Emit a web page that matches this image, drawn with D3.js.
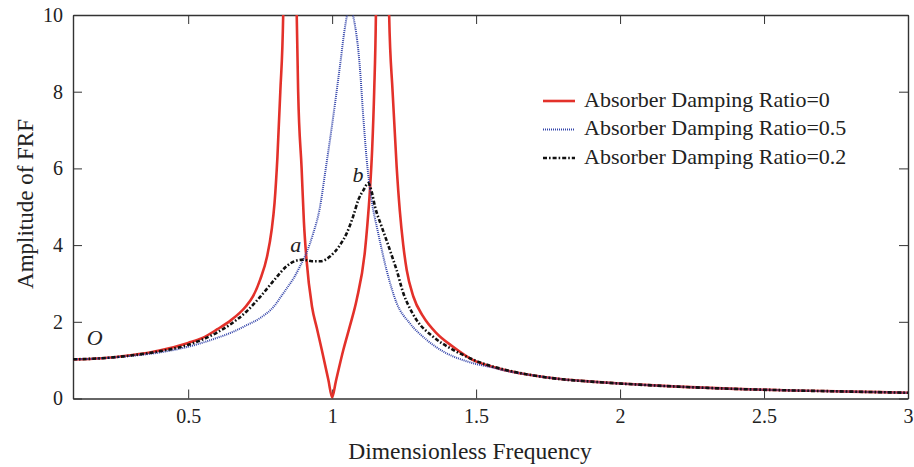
<!DOCTYPE html>
<html><head><meta charset="utf-8">
<script src="https://cdn.jsdelivr.net/npm/d3@7"></script>
<style>body{margin:0;background:#fff}svg{display:block}</style>
</head><body><svg id="c" width="914" height="467"></svg>
<script>
// ----- data -----
const xTicks = [0.5, 1, 1.5, 2, 2.5, 3];
const yTicks = [0, 2, 4, 6, 8, 10];
const seriesNames = ["Absorber Damping Ratio=0", "Absorber Damping Ratio=0.5", "Absorber Damping Ratio=0.2"];

const freq0 = [0.1,0.2,0.3,0.367,0.4,0.5,0.55,0.6,0.65,0.7,0.725,0.75,0.774,0.79,0.8,0.81,0.82,0.83,0.853,0.877,0.882,0.894,0.902,0.911,0.93,0.947,0.964,0.987,1.0,1.013,1.039,1.062,1.085,1.114,1.122,1.131,1.139,1.146,1.152,1.173,1.198,1.21,1.224,1.235,1.247,1.259,1.282,1.316,1.363,1.42,1.49,1.55,1.6,1.7,1.8,1.9,2.0,2.2,2.4,2.6,2.8,3.0];
const amp0  = [1.02,1.05,1.13,1.2,1.25,1.45,1.58,1.8,2.05,2.4,2.66,3.1,3.7,4.4,5.1,6.3,8.0,10,40,10,8.0,6.0,4.6,3.62,2.4,1.83,1.27,0.48,0.03,0.45,1.27,1.9,2.57,3.85,4.5,5.4,6.5,8.0,10,40,10,8.0,6.05,4.9,4.0,3.35,2.66,2.14,1.7,1.35,1.0,0.84,0.74,0.6,0.5,0.44,0.39,0.31,0.25,0.21,0.18,0.15];

const freq05 = [0.1,0.2,0.3,0.4,0.5,0.6,0.65,0.7,0.75,0.8,0.819,0.843,0.865,0.888,0.911,0.934,0.958,0.975,1.004,1.027,1.045,1.06,1.075,1.096,1.108,1.12,1.137,1.16,1.189,1.224,1.27,1.328,1.397,1.455,1.5,1.55,1.6,1.7,1.8,1.9,2.0,2.2,2.4,2.6,2.8,3.0];
const amp05  = [1.02,1.05,1.11,1.2,1.35,1.58,1.72,1.9,2.1,2.42,2.62,2.88,3.12,3.44,3.8,4.3,5.0,5.85,7.36,8.66,9.7,10.2,9.9,8.66,7.36,6.23,5.18,4.31,3.35,2.49,1.96,1.53,1.18,1.0,0.9,0.82,0.73,0.6,0.5,0.44,0.39,0.31,0.25,0.21,0.18,0.15];

const freq02 = [0.1,0.2,0.3,0.4,0.5,0.6,0.65,0.7,0.75,0.8,0.842,0.87,0.9,0.93,0.96,0.992,1.027,1.05,1.073,1.091,1.11,1.125,1.137,1.149,1.172,1.19,1.212,1.224,1.247,1.27,1.293,1.351,1.42,1.467,1.5,1.55,1.6,1.7,1.8,1.9,2.0,2.2,2.4,2.6,2.8,3.0];
const amp02  = [1.02,1.05,1.12,1.23,1.4,1.72,1.95,2.25,2.65,3.1,3.45,3.58,3.62,3.58,3.58,3.7,4.0,4.3,4.75,5.18,5.45,5.62,5.4,5.0,4.48,4.1,3.62,3.35,2.75,2.35,2.05,1.61,1.27,1.09,0.98,0.85,0.75,0.6,0.5,0.44,0.39,0.31,0.25,0.21,0.18,0.15];

const annotations = [{t:"O", x:0.175, y:1.4}, {t:"a", x:0.874, y:3.83}, {t:"b", x:1.09, y:5.65}];

// ----- layout -----
const FONT = '"Liberation Serif", Tinos, "Times New Roman", serif';
const svg = d3.select("#c");
const L = 73, R = 908, T = 15, B = 398.5;
const x = d3.scaleLinear().domain([0.1, 3]).range([L, R]);
const y = d3.scaleLinear().domain([0, 10]).range([B, T]);

svg.append("defs").append("clipPath").attr("id","clip")
  .append("rect").attr("x", L).attr("y", T).attr("width", R-L).attr("height", B-T);

const axisColor = "#333";
const tl = 9;
const gx = svg.append("g").attr("transform", `translate(0,${B})`)
  .call(d3.axisBottom(x).tickValues(xTicks).tickSizeInner(-tl).tickSizeOuter(0).tickPadding(10).tickFormat(d3.format("")));
const gxt = svg.append("g").attr("transform", `translate(0,${T})`)
  .call(d3.axisTop(x).tickValues(xTicks).tickSizeInner(-tl).tickSizeOuter(0).tickFormat(""));
const gy = svg.append("g").attr("transform", `translate(${L},0)`)
  .call(d3.axisLeft(y).tickValues(yTicks).tickSizeInner(-tl).tickSizeOuter(0).tickPadding(10));
const gyr = svg.append("g").attr("transform", `translate(${R},0)`)
  .call(d3.axisRight(y).tickValues(yTicks).tickSizeInner(-tl).tickSizeOuter(0).tickFormat(""));
[gx,gxt,gy,gyr].forEach(g=>{
  g.attr("font-family", FONT).attr("font-size", 20);
  g.select(".domain").attr("stroke", axisColor).attr("stroke-width", 1.4);
  g.selectAll(".tick line").attr("stroke", axisColor).attr("stroke-width", 1);
  g.selectAll(".tick text").attr("fill", "#222");
});

svg.append("text").attr("x", 470).attr("y", 459).attr("text-anchor","middle")
  .attr("font-family", FONT).attr("font-size", 23.5).attr("fill","#222").text("Dimensionless Frequency");
svg.append("text").attr("transform", `translate(33,204) rotate(-90)`).attr("text-anchor","middle")
  .attr("font-family", FONT).attr("font-size", 23).attr("fill","#222").text("Amplitude of FRF");

const line = d3.line().x(d=>x(d[0])).y(d=>y(d[1])).curve(d3.curveMonotoneX);
const plot = svg.append("g").attr("clip-path","url(#clip)");
const styles = [
  {f:freq0, a:amp0, color:"#e3312a", w:2.6, dash:null},
  {f:freq05, a:amp05, color:"#3344aa", w:2, dash:"1,1"},
  {f:freq02, a:amp02, color:"#111", w:2.6, dash:"4,2,1.6,2"}
];
styles.forEach(s=>{
  plot.append("path").datum(d3.zip(s.f, s.a)).attr("d", line)
    .attr("fill","none").attr("stroke", s.color).attr("stroke-width", s.w)
    .attr("stroke-dasharray", s.dash);
});

const leg = svg.append("g");
styles.forEach((s,i)=>{
  const yy = 101 + i*28.5;
  leg.append("line").attr("x1",543).attr("x2",575).attr("y1",yy).attr("y2",yy)
    .attr("stroke", s.color).attr("stroke-width", s.w).attr("stroke-dasharray", s.dash);
  leg.append("text").attr("x",584).attr("y",yy+5.5).attr("font-family", FONT)
    .attr("font-size",22).attr("fill","#222").text(seriesNames[i]);
});

annotations.forEach(a=>{
  svg.append("text").attr("x", x(a.x)).attr("y", y(a.y)).attr("font-family", FONT).attr("font-size", 22)
    .attr("font-style","italic").attr("text-anchor","middle").attr("fill","#222").text(a.t);
});
</script></body></html>
